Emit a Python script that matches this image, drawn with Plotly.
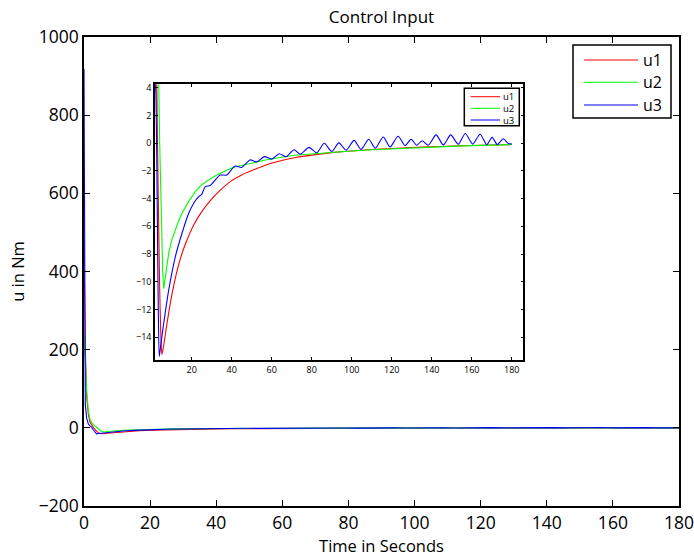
import plotly.graph_objects as go

# ---- data ----
t_u1 = [0, 0.4, 0.8, 1.3, 1.8, 2.4, 3.0, 3.5, 4.0, 4.5, 5.1, 6.0, 7.65, 10.15, 13.5, 16.8,
        21, 25.2, 29, 33.5, 40, 45, 50, 57.5, 65, 72.5, 80, 90, 100, 110, 120, 130,
        140, 150, 160, 170, 180]
u1 = [480, 200, 80, 35, 15, 6, -1, -6, -10.5, -13.5, -15.25, -14.6, -13.0, -10.9, -8.75, -7.3,
      -5.9, -4.9, -4.2, -3.5, -2.7, -2.3, -1.98, -1.55, -1.25, -1.02, -0.86, -0.68, -0.56, -0.46,
      -0.38, -0.31, -0.26, -0.21, -0.17, -0.13, -0.1]

t_u2 = [0, 0.4, 0.8, 1.3, 1.8, 2.4, 3.0, 3.5, 4.0, 4.5, 5.0, 5.5, 6.0, 7.0, 8.5, 10, 11.8,
        13.5, 15.15, 18.5, 21.8, 25, 28, 32.5, 40.8, 49.2, 57.5, 65, 72.5, 80, 90, 100,
        110, 120, 130, 140, 150, 160, 170, 180]
u2 = [242, 150, 97, 45, 22, 12, 7, 4.5, 0, -4, -7.3, -9.3, -10.5, -9.5, -7.94, -7.0, -6.2,
      -5.6, -5.06, -4.2, -3.5, -3.0, -2.7, -2.3, -1.74, -1.45, -1.2, -1.02, -0.85, -0.78,
      -0.65, -0.56, -0.47, -0.4, -0.33, -0.28, -0.23, -0.18, -0.15, -0.1]

t_u3 = [0, 0.4, 0.8, 1.3, 1.8, 2.2, 2.8, 3.3, 3.8, 4.5, 6.0, 8.5, 11.8, 15.15, 18.5, 21,
        23.5, 25, 26.8, 29.3, 31.8, 34.2, 37.5, 41.7, 45, 49.2, 52.5, 56.3, 60, 63.8, 67.2,
        71.2, 74.2, 78.7, 82.5, 86.3, 90, 93.6, 97.2, 101.2, 104.7, 108.5, 111.8, 115.8,
        119.2, 123.2, 126.7, 129.7, 132.5, 135.2, 138.3, 142.2, 145.8, 149.5, 153.3,
        156.8, 160.5, 164.2, 167.5, 170.2, 172.8, 175.8, 178.3, 180]
u3 = [918, 60, 25, 10, 5, 3, -5, -12, -15.4, -14.6, -13.0, -10.6, -8.2, -6.5, -5.06, -4.33,
      -3.86, -3.7, -3.14, -3.05, -2.65, -2.3, -2.3, -1.65, -1.75, -1.21, -1.35, -0.97, -1.15,
      -0.76, -0.98, -0.47, -0.8, -0.30, -0.69, -0.01, -0.6, 0.02, -0.5, 0.2, -0.45, 0.28,
      -0.36, 0.45, -0.27, 0.5, -0.17, 0.28, -0.15, 0.18, -0.15, 0.6, -0.12, 0.6, -0.08,
      0.7, -0.07, 0.65, -0.1, 0.42, -0.1, 0.32, -0.03, -0.05]

names = ["u1", "u2", "u3"]
colors = ["#ff0000", "#00ff00", "#0000ff"]
series = [(t_u1, u1), (t_u2, u2), (t_u3, u3)]
inset_shapes = ["spline", "linear", "spline"]

x_ticks_main = list(range(0, 181, 20))
y_ticks_main = list(range(-200, 1001, 200))
x_ticks_inset = list(range(20, 181, 20))
y_ticks_inset = list(range(-14, 5, 2))

FONT = "Open Sans"
W, H = 694, 557
ML, MR, MT, MB = 84, 15, 37, 51
PW, PH = W - ML - MR, H - MT - MB


def px_x(p):  # pixel -> paper x
    return (p - ML) / PW


def px_y(p):  # pixel -> paper y
    return (H - MB - p) / PH


fig = go.Figure()
for (tx, ty), nm, c in zip(series, names, colors):
    fig.add_trace(go.Scatter(x=tx, y=ty, name=nm, mode="lines",
                             line=dict(color=c, width=1.1),
                             xaxis="x", yaxis="y", showlegend=False))
for (tx, ty), nm, c, shp in zip(series, names, colors, inset_shapes):
    fig.add_trace(go.Scatter(x=tx, y=ty, name=nm, mode="lines",
                             line=dict(color=c, width=1.1, shape=shp, smoothing=0.7),
                             xaxis="x2", yaxis="y2", showlegend=False))

axis_common = dict(showline=True, linecolor="black", linewidth=1.5, mirror="ticks",
                   ticks="inside", tickcolor="black", showgrid=False, zeroline=False,
                   automargin=False)

shapes = []
annotations = []


def add_legend(box, line_x, text_x, rows, fsize, lw):
    shapes.append(dict(type="rect", xref="paper", yref="paper",
                       x0=px_x(box[0]), x1=px_x(box[1]), y0=px_y(box[3]), y1=px_y(box[2]),
                       line=dict(color="black", width=1.5), fillcolor="white", layer="above"))
    for nm, c, r in zip(names, colors, rows):
        shapes.append(dict(type="line", xref="paper", yref="paper",
                           x0=px_x(line_x[0]), x1=px_x(line_x[1]), y0=px_y(r), y1=px_y(r),
                           line=dict(color=c, width=lw), layer="above"))
        annotations.append(dict(text=nm, xref="paper", yref="paper", x=px_x(text_x),
                                y=px_y(r), xanchor="left", yanchor="middle", showarrow=False,
                                font=dict(size=fsize, family=FONT, color="black")))


# main legend and inset legend (layout only)
add_legend((573, 671, 45, 118), (584, 638), 641, (60, 82.3, 105), 16, 1.1)
add_legend((464.3, 519.3, 88.3, 125.7), (470.7, 500), 501, (96.7, 108.3, 120), 9.5, 1)

fig.update_layout(
    width=W, height=H,
    margin=dict(l=ML, r=MR, t=MT, b=MB, autoexpand=False),
    paper_bgcolor="white", plot_bgcolor="white",
    font=dict(family=FONT, color="black"),
    title=dict(text="Control Input", x=0.5, xref="paper", xanchor="center",
               y=1 - 17 / H, yref="container", yanchor="middle",
               font=dict(size=17, family=FONT)),
    xaxis=dict(domain=[0, 1], range=[0, 180], tickvals=x_ticks_main, ticklen=6,
               ticklabeloverflow="allow",
               tickfont=dict(size=17.5), title=dict(text="Time in Seconds", font=dict(size=16.5), standoff=2),
               **axis_common),
    yaxis=dict(domain=[0, 1], range=[-200, 1000], tickvals=y_ticks_main, ticklen=6,
               ticklabeloverflow="allow",
               tickfont=dict(size=17.5), title=dict(text="u in Nm", font=dict(size=16.5), standoff=10),
               **axis_common),
    xaxis2=dict(domain=[px_x(155), px_x(523.3)], anchor="y2", range=[1.65, 185.8],
                tickvals=x_ticks_inset, ticklen=3, tickfont=dict(size=9), **axis_common),
    yaxis2=dict(domain=[px_y(360), px_y(84.3)], anchor="x2", range=[-15.65, 4.25],
                tickvals=y_ticks_inset, ticklen=3, tickfont=dict(size=9), **axis_common),
    shapes=shapes,
    annotations=annotations,
    showlegend=False,
)

fig.write_html("out.html")
